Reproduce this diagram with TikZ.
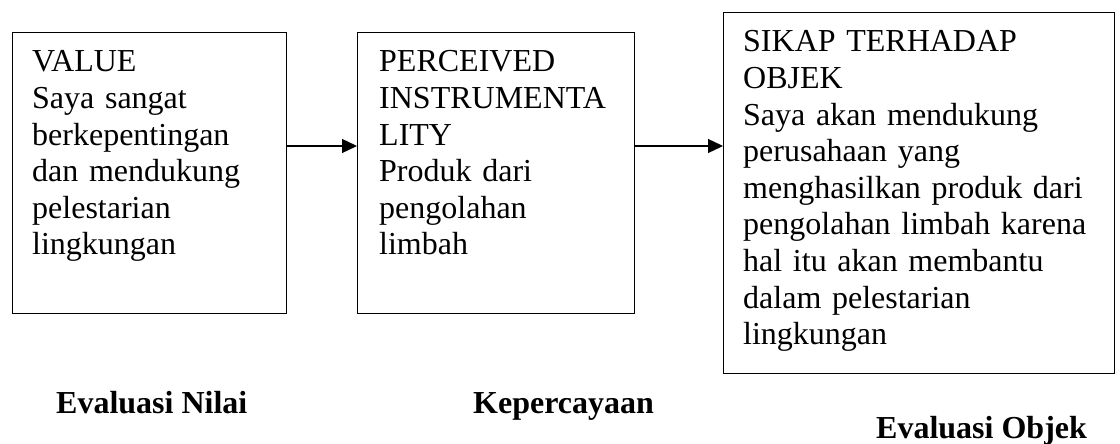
\documentclass[tikz,border=0pt]{standalone}
\usepackage{fontspec}
\setmainfont{Liberation Serif}
\usetikzlibrary{arrows.meta}

\tikzset{
  frame/.style={draw=black, line width=1.3pt, rectangle, inner sep=0pt},
  boxtext/.style={anchor=base west, inner sep=0pt, align=left, text width=#1,
    font=\fontsize{32}{36.6}\selectfont},
  caption/.style={anchor=base west, inner sep=0pt,
    font=\fontsize{32}{36}\selectfont\bfseries},
  link/.style={line width=1.3pt, -{Triangle[length=15pt,width=14pt]}}
}

\begin{document}
\begin{tikzpicture}[x=1pt,y=-1pt]
  \useasboundingbox (0,0) rectangle (1120,444);

  % three boxes
  \node[frame, anchor=north west, minimum width=274pt, minimum height=281pt] (value) at (12,32) {};
  \node[frame, anchor=north west, minimum width=277pt, minimum height=281pt] (instr) at (357,32) {};
  \node[frame, anchor=north west, minimum width=391pt, minimum height=361pt] (sikap) at (723,12) {};

  % box contents
  \node[boxtext=250pt] (tvalue) at (32,72)
    {VALUE\\Saya sangat\\berkepentingan\\dan mendukung\\pelestarian\\lingkungan};
  \node[boxtext=250pt] (tinstr) at (379,72)
    {PERCEIVED\\INSTRUMENTA\\LITY\\Produk dari\\pengolahan\\limbah};
  \node[boxtext=370pt] (tsikap) at (743,52)
    {SIKAP TERHADAP\\OBJEK\\Saya akan mendukung\\perusahaan yang\\menghasilkan produk dari\\pengolahan limbah karena\\hal itu akan membantu\\dalam pelestarian\\lingkungan};

  % captions
  \node[caption] (cvalue) at (56,413) {Evaluasi Nilai};
  \node[caption] (cinstr) at (473,413) {Kepercayaan};
  \node[caption] (csikap) at (876,438) {Evaluasi Objek};

  % connectors
  \coordinate (row) at (0,146);
  \draw[link] (value.east |- row) -- (instr.west |- row);
  \draw[link] (instr.east |- row) -- (sikap.west |- row);
\end{tikzpicture}
\end{document}
